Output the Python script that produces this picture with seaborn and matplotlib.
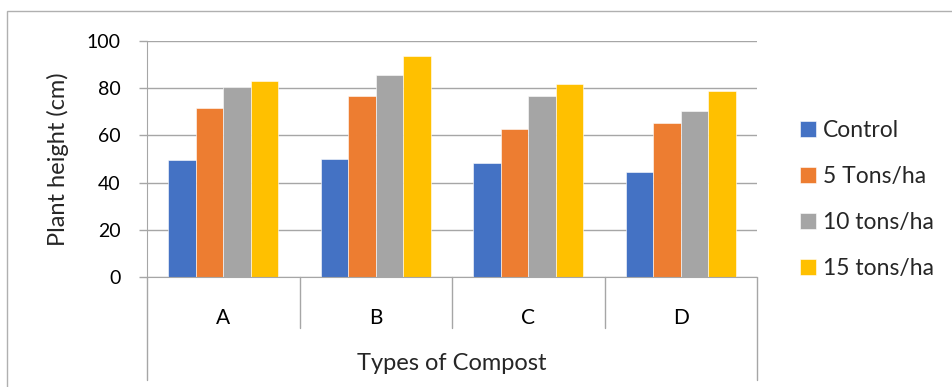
import pandas as pd
import seaborn as sns
import matplotlib.pyplot as plt
from matplotlib.patches import Rectangle
import matplotlib.transforms as mtransforms


compost = ['A', 'B', 'C', 'D']
treatments = ['Control', '5 Tons/ha', '10 tons/ha', '15 tons/ha']
control = [49.5, 49.9, 48.5, 44.6]
tons_5 = [71.4, 76.6, 62.9, 65.2]
tons_10 = [80.3, 85.8, 76.5, 70.3]
tons_15 = [82.9, 93.5, 81.7, 79.0]
colors = ['#4472C4', '#ED7D31', '#A5A5A5', '#FFC000']

# long table for seaborn
rows = []
for t, vals in zip(treatments, [control, tons_5, tons_10, tons_15]):
    for c, v in zip(compost, vals):
        rows.append({'compost': c, 'treatment': t, 'height': v})
df = pd.DataFrame(rows)

sns.set_style('white')
plt.rcParams['font.family'] = ['Lato', 'DejaVu Sans']

W, H = 953, 387
fig = plt.figure(figsize=(W / 100, H / 100), dpi=100)
ax = fig.add_axes([147 / W, 1 - 277 / H, (757 - 147) / W, (277 - 41) / H])

sns.barplot(data=df, x='compost', y='height', hue='treatment', hue_order=treatments,
            palette=colors, width=0.72, gap=0, saturation=1, ax=ax, legend=True,
            edgecolor='white', linewidth=0.4)

grid_c = '#a6a6a6'
ax.set_ylim(0, 100)
ax.set_xlim(-0.5, 3.5)
ax.set_yticks(range(0, 101, 20))
ax.yaxis.grid(True, color=grid_c, linewidth=1)
ax.set_axisbelow(True)
for s in ['top', 'right']:
    ax.spines[s].set_visible(False)
ax.spines['left'].set_color(grid_c)
ax.spines['bottom'].set_color(grid_c)
ax.tick_params(axis='y', left=True, length=6, width=1, color=grid_c, pad=13, labelsize=14, labelcolor='black')
ax.tick_params(axis='x', bottom=False, pad=19, labelsize=15, labelcolor='black')

# excel-style category separators under the axis
trans = mtransforms.blended_transform_factory(ax.transData, ax.transAxes)
for i, xb in enumerate([-0.5, 0.5, 1.5, 2.5, 3.5]):
    y_end = -0.436 if i in (0, 4) else -0.216
    ax.plot([xb, xb], [0, y_end], transform=trans, color=grid_c, lw=1, clip_on=False)

ax.set_xlabel('Types of Compost', fontsize=17)
ax.xaxis.set_label_coords(0.5, (277 - 364) / 236)
ax.xaxis.label.set_verticalalignment('center')
ax.set_ylabel('Plant height (cm)', fontsize=17)
ax.yaxis.set_label_coords((69 - 147) / 610, 0.5)

handles, labels = ax.get_legend_handles_labels()
ax.get_legend().remove()
fig.legend(handles, labels, loc='center left', bbox_to_anchor=(800 / W, 1 - 199.5 / H),
           frameon=False, fontsize=16.5, handlelength=0.7, handleheight=0.7,
           handletextpad=0.3, labelspacing=1.1, borderpad=0, borderaxespad=0)

# chart border
fig.patches.append(Rectangle((7.5 / W, -0.1), 1.2, 1 - 11 / H + 0.1, transform=fig.transFigure,
                             fill=False, edgecolor='#b0b0b0', lw=1))

fig.savefig('out.png', dpi=100)
